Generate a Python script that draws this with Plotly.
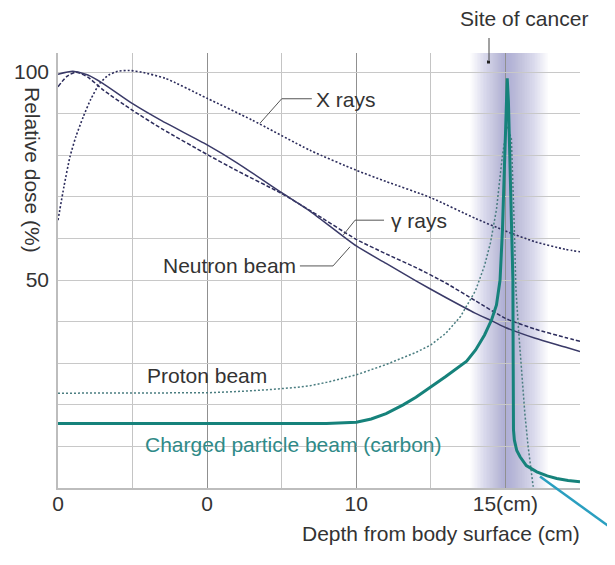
import numpy as np
import plotly.graph_objects as go

# ---------------- data ----------------
x_rays_depth = [0, 0.2, 0.4, 0.6, 0.85, 1.1, 1.4, 1.7, 2.0, 2.4, 2.8, 3.6, 5, 6.5, 8.45, 10, 11, 12.5, 14, 15, 16, 17, 17.5]
x_rays_dose = [64.4, 72.5, 79.6, 84.5, 89.3, 93.5, 97.3, 99.3, 100.2, 100.4, 100, 98.5, 93.7, 88.5, 81.2, 76.4, 73.7, 69.8, 64.8, 61.8, 59.2, 57.4, 56.8]

gamma_depth = [0, 0.3, 0.6, 1, 1.5, 2.5, 3.5, 5, 6, 7.5, 8.5, 10, 11, 12, 13, 14, 15, 16, 17, 17.5]
gamma_dose = [96.5, 99, 100, 98.8, 95.8, 90.8, 86.3, 80.2, 76.3, 70.8, 66.5, 59.8, 56.3, 53, 49.3, 45, 40.8, 38.2, 36.2, 35.3]

neutron_depth = [0, 0.5, 1, 1.5, 2.5, 3.5, 5, 6, 7.5, 8.5, 10, 11, 12, 13, 14, 14.6, 15, 16, 17, 17.5]
neutron_dose = [99.5, 100.2, 99.3, 97.3, 92.4, 88.2, 82.5, 78.2, 71, 66.3, 58.2, 54, 49.8, 45.8, 42, 40, 38.6, 36, 33.9, 32.8]

proton_depth = [0, 2, 4, 5, 6, 7, 8, 8.45, 9, 10, 11, 12, 12.5, 13, 13.5, 14, 14.3, 14.5, 14.7, 14.9, 15.05, 15.2, 15.3, 15.35, 15.45, 15.55, 15.65, 15.76, 15.85, 15.93]
proton_dose = [22.8, 22.8, 22.8, 22.9, 23.2, 23.6, 24.2, 24.6, 25.4, 27.2, 29.7, 32.6, 34.4, 37.2, 41.3, 47.5, 53.5, 59, 67, 80, 87, 84, 62, 48, 37, 27, 18, 10, 4, 0.3]

carbon_depth = [0, 9, 10, 10.5, 11, 11.57, 12, 12.5, 13, 13.7, 14, 14.3, 14.54, 14.7, 14.82, 14.9, 14.97, 15.02, 15.06, 15.1, 15.15, 15.2, 15.25, 15.26, 15.27, 15.3, 15.38, 15.49, 15.7, 16.05, 16.4, 16.72, 17.1, 17.5]
carbon_dose = [15.5, 15.5, 15.8, 16.6, 17.9, 20, 21.8, 24.2, 26.8, 30.5, 33.2, 36.8, 40.5, 44, 50, 62, 80, 93, 98.5, 93, 80, 68, 50, 30, 14, 11.5, 9, 7.5, 5.4, 3.9, 2.9, 2.3, 1.8, 1.5]

x_tick_vals = [0, 5, 10, 15]
x_tick_text = ["0", "0", "10", "15(cm)"]
x_minor_vals = [2.5, 7.5, 12.5]
y_tick_vals = [0, 10, 20, 30, 40, 50, 60, 70, 80, 90, 100]
y_tick_text = ["", "", "", "", "", "50", "", "", "", "", "100"]

cancer_band = [13.81, 14.95, 15.05, 16.45]  # fade-in start, dark start, dark end, fade-out end

# ---------------- styling ----------------
FONT = "Liberation Sans, Arial, Helvetica, sans-serif"
FS = 21
TXT = "#333333"
NAVY = "#2c2c5c"
TEAL = "#16827b"

X_RANGE = [0, 17.5]
Y_RANGE = [0, 104.6]

fig = go.Figure()

fig.add_trace(go.Scatter(x=x_rays_depth, y=x_rays_dose, mode="lines",
                         line=dict(color=NAVY, width=1.6, dash="2px,2px", shape="spline", smoothing=0.6),
                         name="X rays"))
fig.add_trace(go.Scatter(x=gamma_depth, y=gamma_dose, mode="lines",
                         line=dict(color=NAVY, width=1.5, dash="4px,2px", shape="spline", smoothing=0.6),
                         name="γ rays"))
fig.add_trace(go.Scatter(x=neutron_depth, y=neutron_dose, mode="lines",
                         line=dict(color="#3a3a68", width=1.5, shape="spline", smoothing=0.6),
                         name="Neutron beam"))
fig.add_trace(go.Scatter(x=proton_depth, y=proton_dose, mode="lines",
                         line=dict(color="#4a7d80", width=1.5, dash="2px,2px"), name="Proton beam"))
fig.add_trace(go.Scatter(x=carbon_depth, y=carbon_dose, mode="lines",
                         line=dict(color=TEAL, width=3), name="Charged particle beam (carbon)"))

shapes = []
# gradient band for the site of cancer: nested translucent rectangles (no seams)
x0, x1, x2, x3 = cancer_band
n = 24
alpha = 0.027
for i in range(n):
    f = (i + 0.5) / n
    left = x1 - (x1 - x0) * (1 - f) ** 1.1
    right = x2 + (x3 - x2) * (1 - f) ** 0.9
    shapes.append(dict(type="rect", xref="x", yref="y", x0=left, x1=right, y0=Y_RANGE[0], y1=Y_RANGE[1],
                       fillcolor="rgb(118,124,200)", opacity=alpha, line=dict(width=0), layer="below"))

# leader lines
def path(pts):
    return "M " + " L ".join("%f,%f" % p for p in pts)

LEAD = "#555555"
shapes.append(dict(type="path", xref="x", yref="y", path=path([(6.77, 87.7), (7.50, 93.6), (8.51, 93.6)]),
                   line=dict(color=LEAD, width=1)))
shapes.append(dict(type="path", xref="x", yref="y", path=path([(9.56, 60.8), (9.96, 64.4), (10.93, 64.4)]),
                   line=dict(color=LEAD, width=1)))
shapes.append(dict(type="path", xref="x", yref="y", path=path([(8.11, 53.4), (9.22, 53.4), (9.79, 58.0)]),
                   line=dict(color=LEAD, width=1)))

# pointer for "Site of cancer" (paper coords: plot spans page px 58..580, 53..488)
def px(xp):
    return (xp - 58) / 522.0

def py(yp):
    return (488 - yp) / 435.0

shapes.append(dict(type="line", xref="paper", yref="paper", x0=px(489), x1=px(489), y0=py(38), y1=py(60),
                   line=dict(color="#444444", width=1)))
shapes.append(dict(type="rect", xref="paper", yref="paper", x0=px(487), x1=px(490), y0=py(60.5), y1=py(63.5),
                   fillcolor="#222222", line=dict(width=0)))
# stray light-blue line at bottom right
shapes.append(dict(type="line", xref="paper", yref="paper", x0=px(540), x1=px(618), y0=py(476.5), y1=py(533),
                   line=dict(color="#2a9fc0", width=2.5)))

annotations = [
    dict(text="X rays", x=8.57, y=93.4, xref="x", yref="y", xanchor="left", yanchor="middle", showarrow=False),
    dict(text="γ rays", x=11.1, y=64.4, xref="x", yref="y", xanchor="left", yanchor="middle", showarrow=False),
    dict(text="Neutron beam", x=8.05, y=53.4, xref="x", yref="y", xanchor="right", yanchor="middle", showarrow=False),
    dict(text="Proton beam", x=2.92, y=27.0, xref="x", yref="y", xanchor="left", yanchor="middle", showarrow=False),
    dict(text="Charged particle beam (carbon)", x=2.85, y=10.4, xref="x", yref="y", xanchor="left",
         yanchor="middle", showarrow=False, font=dict(color="#2f8a88")),
    dict(text="Site of cancer", x=px(524), y=py(19), xref="paper", yref="paper", xanchor="center",
         yanchor="middle", showarrow=False),
    dict(text="Depth from body surface (cm)", x=px(582), y=py(533), xref="paper", yref="paper",
         xanchor="right", yanchor="middle", showarrow=False),
    dict(text="Relative dose (%)", x=px(33), y=py(170), xref="paper", yref="paper", textangle=90,
         xanchor="center", yanchor="middle", showarrow=False),
]

# the page body adds an 8px margin, so the figure is 8px smaller and margins compensate
fig.update_layout(
    width=607, height=557,
    margin=dict(l=50, r=35, t=45, b=77, pad=0, autoexpand=False),
    paper_bgcolor="white", plot_bgcolor="white",
    showlegend=False,
    font=dict(family=FONT, size=FS, color=TXT),
    shapes=shapes, annotations=annotations,
    xaxis=dict(range=X_RANGE, tickvals=x_tick_vals, ticktext=x_tick_text, ticks="",
               ticklabelstandoff=-4, automargin=False,
               showgrid=True, gridcolor="#909090", gridwidth=1,
               minor=dict(tickvals=x_minor_vals, showgrid=True, gridcolor="#c4c4c4", gridwidth=1),
               showline=True, linecolor="#bdbdbd", linewidth=1.5, zeroline=False,
               tickfont=dict(family=FONT, size=FS, color=TXT)),
    yaxis=dict(range=Y_RANGE, tickvals=y_tick_vals, ticktext=y_tick_text, ticks="",
               ticklabelstandoff=3, automargin=False,
               showgrid=True, gridcolor="#c8c8c8", gridwidth=1,
               showline=True, linecolor="#bdbdbd", linewidth=1.5, zeroline=False,
               tickfont=dict(family=FONT, size=FS, color=TXT)),
)

fig.write_html("out.html")
